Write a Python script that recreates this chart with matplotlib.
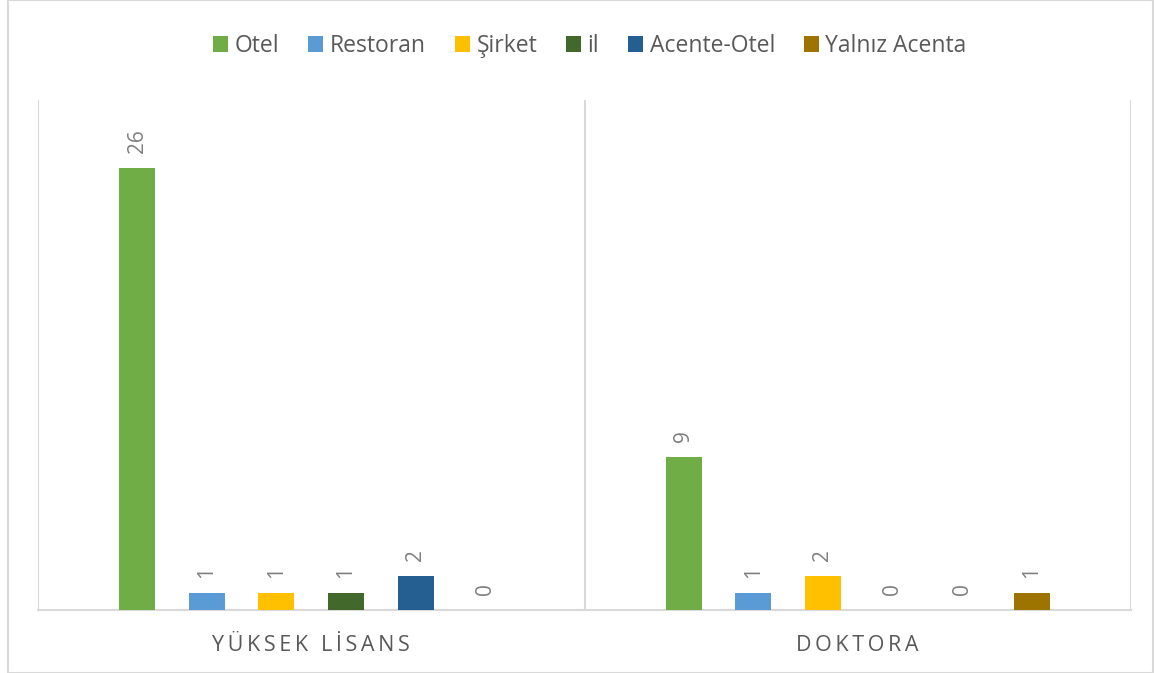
import matplotlib

matplotlib.use("Agg")
import matplotlib.pyplot as plt
import numpy as np
from matplotlib.patches import Rectangle

# data
categories = ["YÜKSEK LİSANS", "DOKTORA"]
series_names = ["Otel", "Restoran", "Şirket", "il", "Acente-Otel", "Yalnız Acenta"]
yuksek_lisans = [26, 1, 1, 1, 2, 0]
doktora = [9, 1, 2, 0, 0, 1]
colors = ["#70AD47", "#5B9BD5", "#FFC000", "#43682B", "#255E91", "#9E7400"]

TEXT = "#595959"
LABEL = "#7F7F7F"
GRID = "#D9D9D9"

plt.rcParams["font.family"] = ["Open Sans", "DejaVu Sans"]

fig = plt.figure(figsize=(11.54, 6.73), dpi=100)
ax = fig.add_axes([38 / 1154, 1 - 610 / 673, (1131 - 38) / 1154, (610 - 100) / 673])

values = np.array([yuksek_lisans, doktora])
step = 0.1274
width = 0.066
x = np.arange(len(categories)) + 0.5
handles = []
for i, name in enumerate(series_names):
    xpos = x + (i - 2.5) * step
    bars = ax.bar(xpos, values[:, i], width=width, color=colors[i], label=name, zorder=3)
    handles.append(bars)
    for xp, v in zip(xpos, values[:, i]):
        ax.annotate(str(v), xy=(xp, v), xytext=(0, 11), textcoords="offset points",
                    rotation=90, ha="center", va="bottom", color=LABEL, fontsize=15)

ax.set_xlim(0, 2)
ax.set_ylim(0, 30)
ax.set_yticks([])
ax.set_xticks([])
for side in ("top", "right", "left"):
    ax.spines[side].set_visible(False)
ax.spines["bottom"].set_color(GRID)
ax.spines["bottom"].set_linewidth(1.5)
for xv in (0, 1, 2):
    ax.axvline(xv, color=GRID, linewidth=1.5, zorder=1)

for xc, cat in zip(x, categories):
    spaced = "\u2009".join(cat).replace("\u2009 \u2009", "\u2009\u2009 ")
    ax.text(xc, -2.1, spaced, ha="center", va="center", color=TEXT, fontsize=15.5)

fig.legend(handles=handles, labels=series_names, loc="center",
           bbox_to_anchor=(0.5 + 13 / 1154, 1 - 46 / 673),
           ncol=6, frameon=False, fontsize=16.5, labelcolor=TEXT, handlelength=0.65,
           handleheight=0.65, handletextpad=0.3, columnspacing=1.25)

fig.patches.append(Rectangle((8 / 1154, 0), 1 - 9 / 1154, 1, transform=fig.transFigure,
                             fill=False, edgecolor=GRID, linewidth=1.5))

fig.savefig("out.png", dpi=100, facecolor="white")
